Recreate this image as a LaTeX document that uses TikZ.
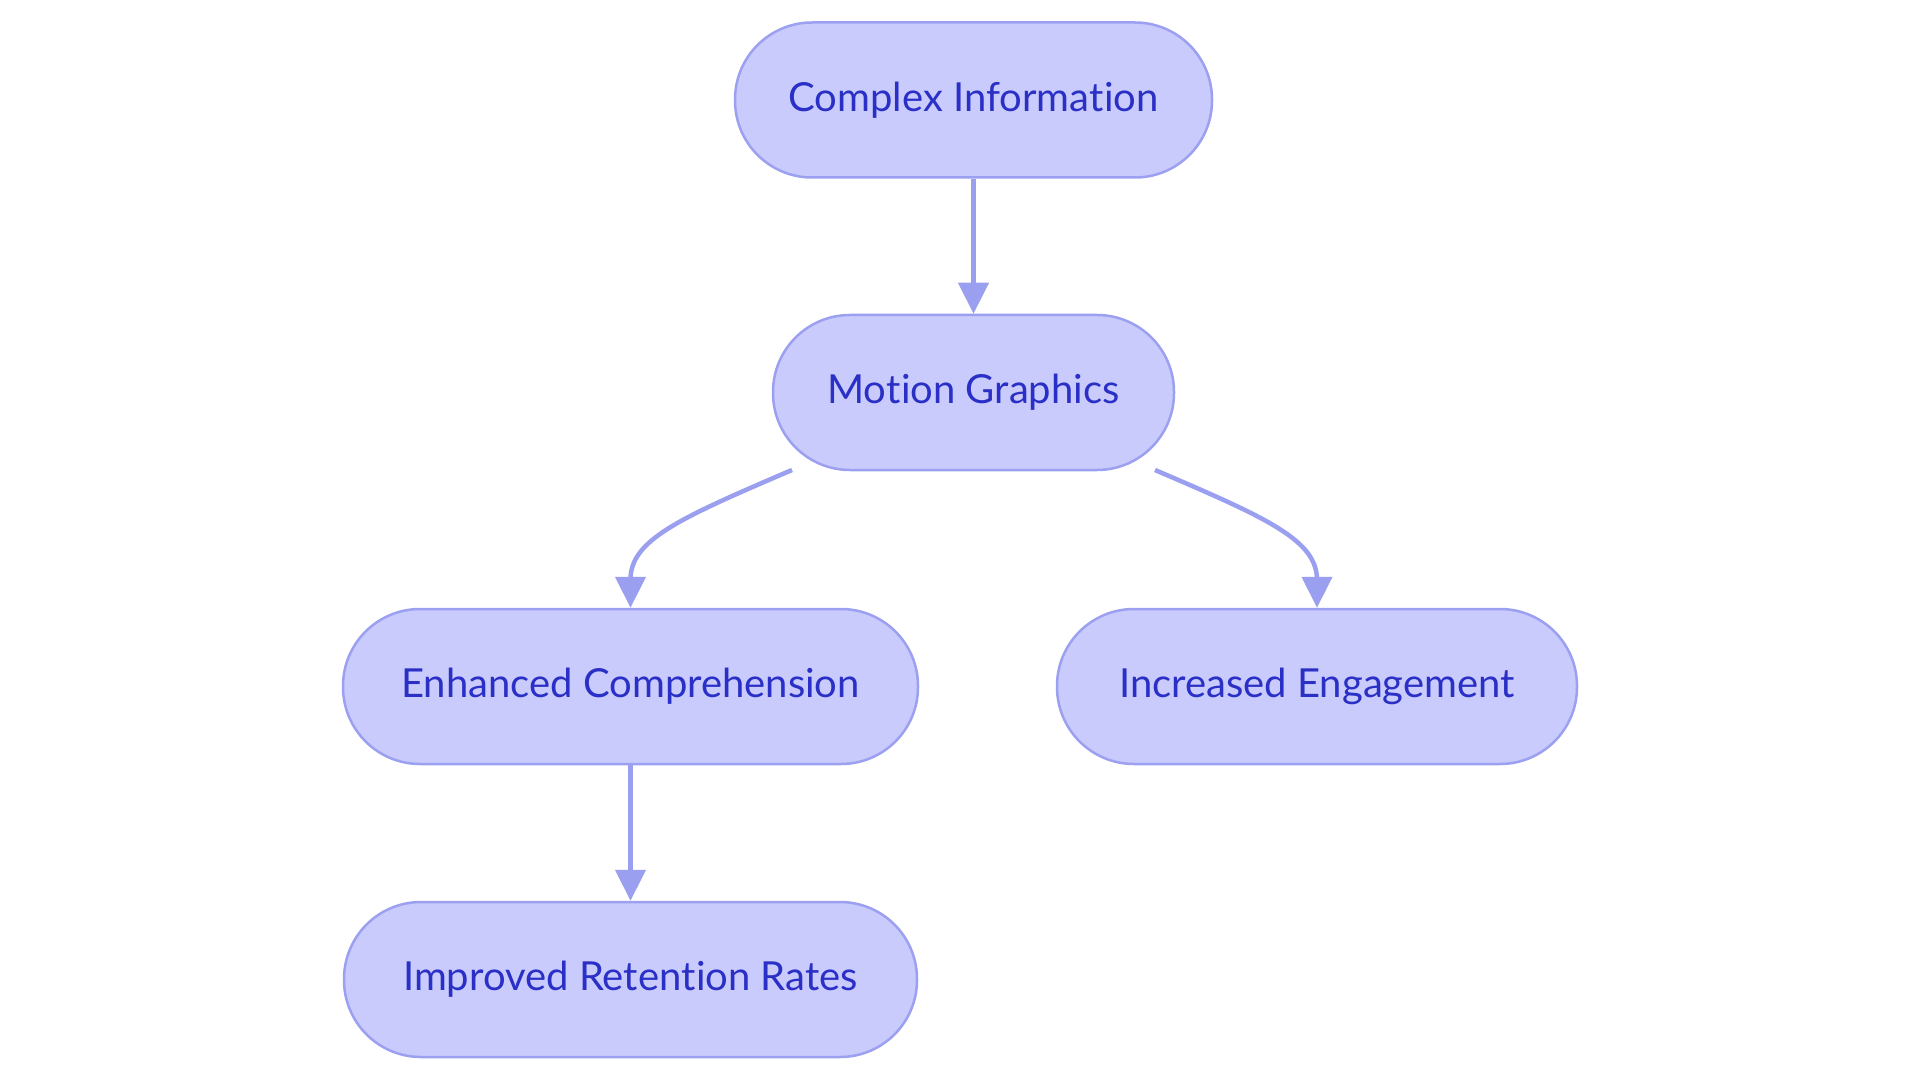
\documentclass[tikz,border=0pt]{standalone}
\usepackage{fontspec}
\setmainfont{Lato}[RawFeature={-liga;-clig;-calt;-dlig}]
\usetikzlibrary{arrows.meta}
\definecolor{nodefill}{HTML}{C9CBFC}
\definecolor{nodeline}{HTML}{9CA0F0}
\definecolor{nodetext}{HTML}{2A2FC6}
\definecolor{edgecol}{HTML}{9A9FEF}
\newcommand\tisep{t\kern0.5pt i}
\tikzset{
  pill/.style={draw=nodeline, fill=nodefill, line width=2.5pt, rounded corners=77pt,
    minimum height=155pt, text=nodetext, font=\fontsize{40}{48}\selectfont, inner sep=0pt},
  edge/.style={draw=edgecol, line width=4.5pt, -{Triangle[length=31pt,width=30pt]}}
}
\begin{document}
\begin{tikzpicture}[x=1pt,y=1pt]
\path[use as bounding box, fill=white] (0,0) rectangle (1920,-1083);
\node[pill, minimum width=477pt] (ci) at (973.5,-100) {Complex Informa\tisep on};
\node[pill, minimum width=401pt] (mg) at (973.5,-392.5) {Mo\tisep on Graphics};
\node[pill, minimum width=575pt] (ec) at (630.5,-686.5) {Enhanced Comprehension};
\node[pill, minimum width=520pt] (ie) at (1317,-686.5) {Increased Engagement};
\node[pill, minimum width=573pt] (ir) at (630.5,-979.5) {Improved Reten\tisep on Rates};
\coordinate (mgl) at (792,-470);
\coordinate (mgr) at (1155,-470);
\draw[edge] (ci.south) -- (mg.north);
\draw[edge] (mgl) .. controls (680,-518) and (630,-540) .. (630.5,-580) -- (ec.north);
\draw[edge] (mgr) .. controls (1267,-518) and (1317,-540) .. (1317,-580) -- (ie.north);
\draw[edge] (ec.south) -- (ir.north);
\end{tikzpicture}
\end{document}
